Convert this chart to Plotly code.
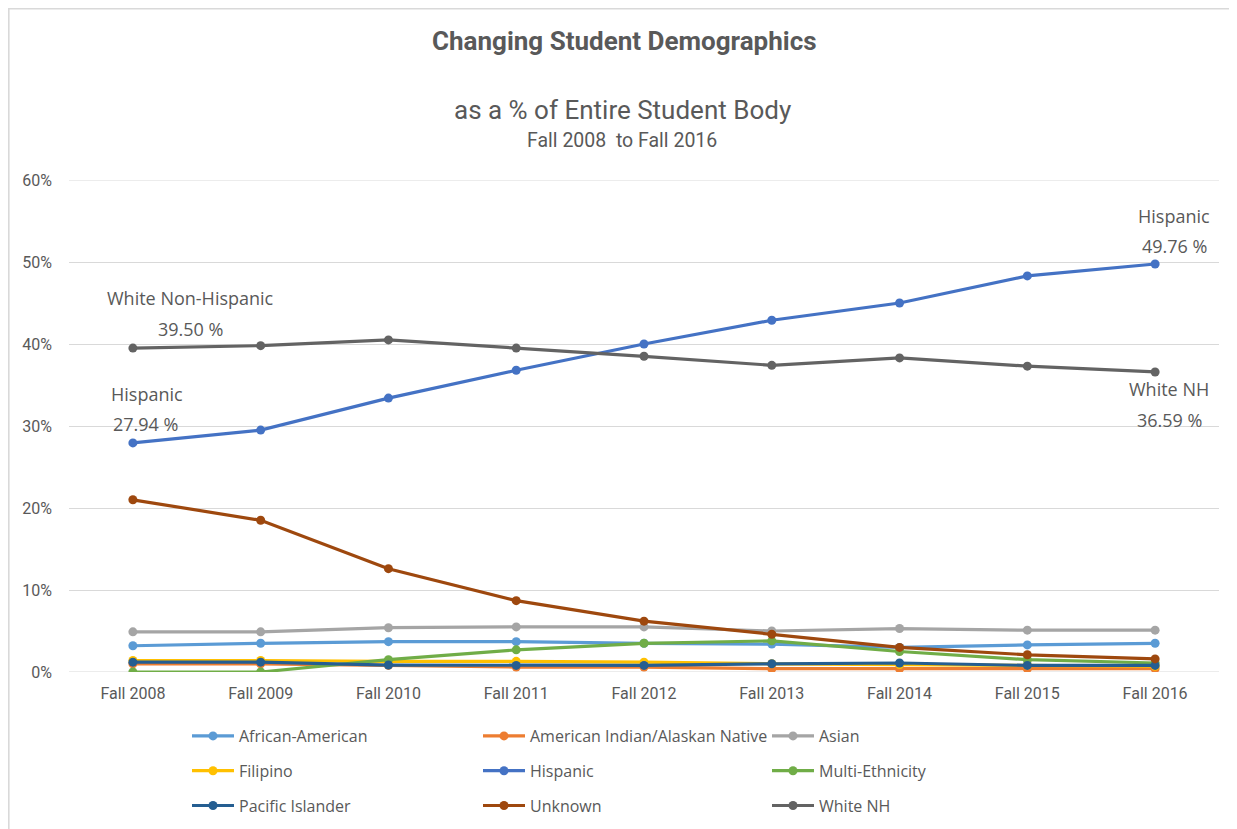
import plotly.graph_objects as go

years = ["Fall 2008", "Fall 2009", "Fall 2010", "Fall 2011", "Fall 2012",
         "Fall 2013", "Fall 2014", "Fall 2015", "Fall 2016"]

african_american = [3.2, 3.5, 3.7, 3.7, 3.5, 3.4, 3.0, 3.3, 3.5]
american_indian = [1.0, 1.0, 0.8, 0.6, 0.6, 0.4, 0.4, 0.4, 0.4]
asian = [4.9, 4.9, 5.4, 5.5, 5.5, 5.0, 5.3, 5.1, 5.1]
filipino = [1.4, 1.4, 1.3, 1.3, 1.2, 1.0, 0.9, 0.8, 0.7]
hispanic = [27.94, 29.5, 33.4, 36.8, 40.0, 42.9, 45.0, 48.3, 49.76]
multi_ethnicity = [0.0, 0.0, 1.5, 2.7, 3.5, 3.8, 2.5, 1.5, 1.1]
pacific_islander = [1.2, 1.2, 0.85, 0.8, 0.8, 1.0, 1.1, 0.8, 0.8]
unknown = [21.0, 18.5, 12.6, 8.7, 6.2, 4.6, 3.0, 2.1, 1.6]
white_nh = [39.50, 39.8, 40.5, 39.5, 38.5, 37.4, 38.3, 37.3, 36.59]

series_names = ["African-American", "American Indian/Alaskan Native", "Asian",
                "Filipino", "Hispanic", "Multi-Ethnicity",
                "Pacific Islander", "Unknown", "White NH"]
series_values = [african_american, american_indian, asian, filipino, hispanic,
                 multi_ethnicity, pacific_islander, unknown, white_nh]
series_colors = ["#5B9BD5", "#ED7D31", "#A5A5A5", "#FFC000", "#4472C4",
                 "#70AD47", "#255E91", "#9E480E", "#636363"]
legend_ids = ["legend", "legend2", "legend3"] * 3

# page body has an 8px margin; work in screen coordinates
OFF = 8
W, H = 1237, 880                         # extra height (off-screen) keeps legends from pushing margins
L, R, T, B = 69, 1219, 180, 672          # plot area in screen pixels


def px(x):
    return (x - L) / (R - L)


def py(y):
    return (B - y) / (B - T)


fig = go.Figure()
for name, vals, col, lg in zip(series_names, series_values, series_colors, legend_ids):
    fig.add_trace(go.Scatter(
        x=years, y=[v / 100 for v in vals], name=name, mode="lines+markers",
        line=dict(color=col, width=3.2), marker=dict(color=col, size=9),
        legend=lg, legendgroup=name,
    ))

gray = "#595959"
afont = dict(family="Open Sans, sans-serif", size=18, color=gray)
# (x category, y value, text, xshift, yshift)
label_specs = [
    (years[0], white_nh[0], "White Non-Hispanic", 58, 50),
    (years[0], white_nh[0], "39.50 %", 58, 19),
    (years[0], hispanic[0], "Hispanic", 14, 49),
    (years[0], hispanic[0], "27.94 %", 13, 19),
    (years[-1], hispanic[-1], "Hispanic", 19, 48),
    (years[-1], hispanic[-1], "49.76 %", 19, 18),
    (years[-1], white_nh[-1], "White NH", 14, -17),
    (years[-1], white_nh[-1], "36.59 %", 14, -48),
]
annotations = [
    dict(x=xc, y=yv / 100, text=t, xshift=xs, yshift=ys, xref="x", yref="y",
         showarrow=False, font=afont, xanchor="center", yanchor="middle")
    for xc, yv, t, xs, ys in label_specs
]

tfont = "Roboto, sans-serif"
titles = [
    (624, 41, "<b>Changing Student Demographics</b>", 26),
    (622, 110, "as a % of Entire Student Body", 26),
    (622, 141, "Fall 2008  to Fall 2016", 19.5),
]
annotations += [
    dict(x=px(xx), y=py(yy), text=t, font=dict(family=tfont, size=s, color=gray),
         xref="paper", yref="paper", showarrow=False, xanchor="center",
         yanchor="middle")
    for xx, yy, t, s in titles
]

lfont = dict(family="Open Sans, sans-serif", size=16, color=gray)
legend_common = dict(orientation="v", font=lfont, itemwidth=42,
                     tracegroupgap=11, xanchor="left", yanchor="top",
                     bgcolor="rgba(0,0,0,0)", y=py(719))

fig.update_layout(
    width=W, height=H,
    margin=dict(l=L - OFF, r=W - (R - OFF), t=T - OFF, b=H - (B - OFF), pad=0),
    paper_bgcolor="white", plot_bgcolor="white",
    xaxis=dict(type="category", range=[-0.5, 8.5], showgrid=False,
               showline=False, ticks="", zeroline=False, ticklabelstandoff=10,
               tickfont=dict(family=tfont, size=16, color=gray)),
    yaxis=dict(range=[0, 0.6], dtick=0.1, tickformat=".0%", showgrid=True,
               gridcolor="#D9D9D9", gridwidth=1, zeroline=False, ticks="",
               showline=False, ticklabelstandoff=16,
               tickfont=dict(family=tfont, size=16, color=gray)),
    legend=dict(legend_common, x=px(187)),
    legend2=dict(legend_common, x=px(478)),
    legend3=dict(legend_common, x=px(767)),
    annotations=annotations,
    shapes=[
        dict(type="line", xref="paper", yref="y", x0=0, x1=1, y0=0, y1=0,
             layer="below", line=dict(color="#D9D9D9", width=1.2)),
        dict(type="line", xref="paper", yref="y", x0=0, x1=1, y0=0.6, y1=0.6,
             layer="below", line=dict(color="#D9D9D9", width=1.2)),
        dict(type="line", xref="paper", yref="paper", x0=px(OFF), x1=px(W + 20),
             y0=py(OFF + 0.8), y1=py(OFF + 0.8), line=dict(color="#D9D9D9", width=1.6)),
        dict(type="line", xref="paper", yref="paper", x0=px(OFF + 0.8), x1=px(OFF + 0.8),
             y0=py(OFF), y1=py(H + 20), line=dict(color="#D9D9D9", width=1.6)),
    ],
    showlegend=True,
)

fig.write_html("out.html")
